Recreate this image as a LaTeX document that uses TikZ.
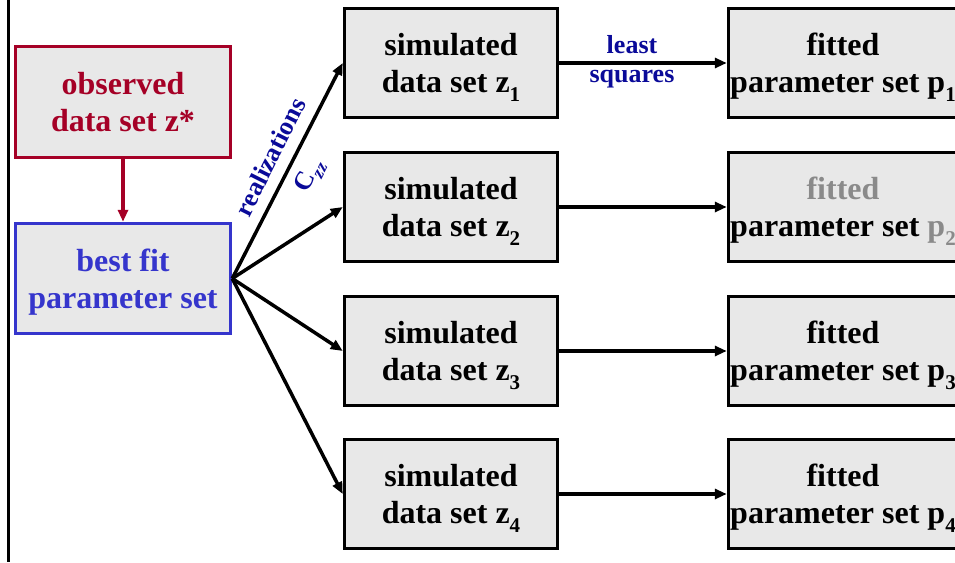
\documentclass[tikz,border=0pt]{standalone}
\usepackage{fontspec}
\setmainfont{Liberation Serif}
\usetikzlibrary{arrows.meta}
\definecolor{obsred}{HTML}{A50026}
\definecolor{fitblue}{HTML}{3535CC}
\definecolor{lblblue}{HTML}{0A0A99}
\definecolor{boxfill}{HTML}{E8E8E8}
\definecolor{greytxt}{HTML}{8A8A8A}
\newcommand\sbs[1]{\raisebox{-0.28em}{\fontsize{21}{21}\selectfont #1}}
\begin{document}
\begin{tikzpicture}[x=1pt,y=-1pt,
  box/.style={draw, line width=3.5pt, fill=boxfill, align=center,
    font=\fontsize{32}{37}\selectfont\bfseries, inner sep=0pt,
    text height=71pt, text depth=12pt},
  simbox/.style={box, minimum width=213pt, minimum height=109pt},
  fitbox/.style={box, minimum width=229pt, minimum height=109pt},
  conn/.style={line width=3.5pt, -{Triangle[length=12pt,width=10pt]}},
  lbl/.style={text=lblblue, font=\fontsize{26}{28}\selectfont\bfseries, inner sep=0pt}]
\useasboundingbox (0,0) rectangle (955,562);
\clip (0,0) rectangle (955,562);
\fill[white] (0,0) rectangle (955,562);
\coordinate (lt) at (8.5,0);
\coordinate (lb) at (8.5,562);
\draw[line width=2.2pt] (lt) -- (lb);

\node[box, draw=obsred, text=obsred, minimum width=215pt, minimum height=111pt] (obs) at (123,102) {observed\\data set z*};
\node[box, draw=fitblue, text=fitblue, minimum width=215pt, minimum height=110pt] (bf) at (123,278.5) {best fit\\parameter set};
\draw[line width=3.5pt, obsred, -{Triangle[length=12pt,width=10pt]}] (obs) -- (bf);

\node[simbox] (s1) at (451,63) {simulated\\data set z\sbs{1}};
\node[simbox] (s2) at (451,207) {simulated\\data set z\sbs{2}};
\node[simbox] (s3) at (451,351) {simulated\\data set z\sbs{3}};
\node[simbox] (s4) at (451,494) {simulated\\data set z\sbs{4}};

\node[fitbox] (f1) at (843,63) {fitted\\parameter set p\sbs{1}};
\node[fitbox] (f2) at (843,207) {\textcolor{greytxt}{fitted}\\parameter set \textcolor{greytxt}{p\sbs{2}}};
\node[fitbox] (f3) at (843,351) {fitted\\parameter set p\sbs{3}};
\node[fitbox] (f4) at (843,494) {fitted\\parameter set p\sbs{4}};

\foreach \i in {1,2,3,4} {
  \draw[conn] (bf.east) -- (s\i.west);
  \draw[conn] (s\i.east) -- (f\i.west);
}

\node[lbl] (ls1) at (632,45) {least};
\node[lbl] (ls2) at (632,79) {squares};
\node[lbl, rotate=63.3] (real) at (270,157) {realizations};
\node[lbl, rotate=63.3] (czz) at (310,176) {C\raisebox{-0.25em}{\fontsize{18}{18}\selectfont\itshape zz}};
\end{tikzpicture}
\end{document}
